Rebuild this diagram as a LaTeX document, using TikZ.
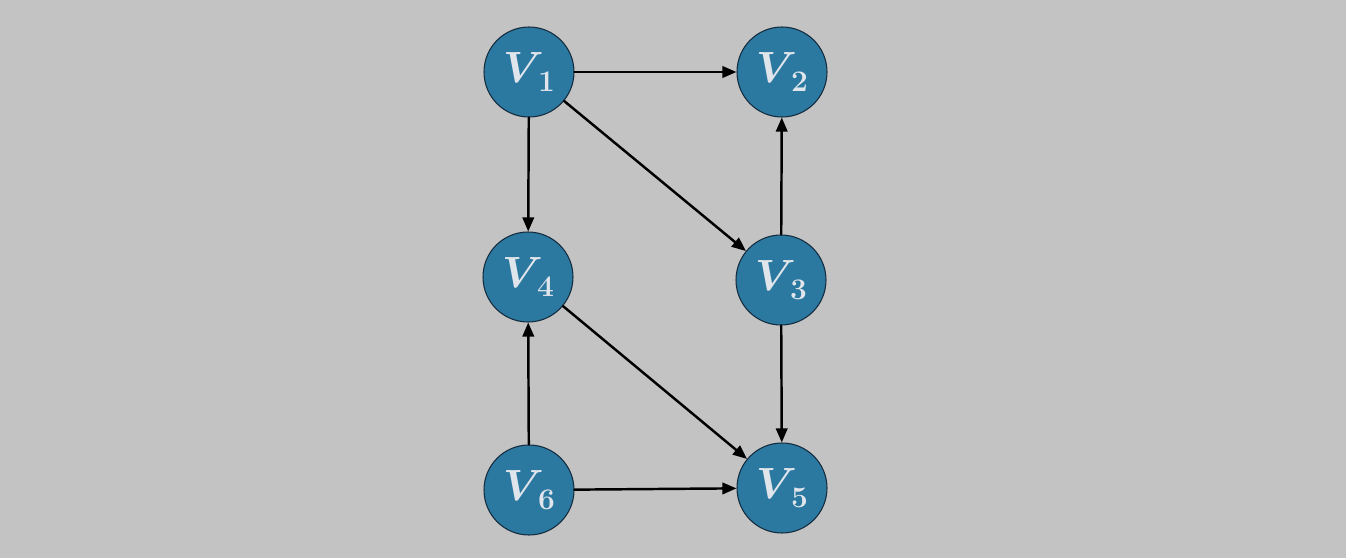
\documentclass[tikz,border=0pt]{standalone}
\usepackage{amsmath,amssymb,bm}
\usetikzlibrary{arrows.meta}
\definecolor{litegray}{rgb}{0.765,0.765,0.765}
\definecolor{nodeblue}{rgb}{0.17,0.47,0.63}
\definecolor{nodeedge}{rgb}{0.08,0.17,0.24}
\definecolor{labelwhite}{rgb}{0.88,0.9,0.92}
\newcommand{\vlab}[1]{$\bm{V}$\kern-0.14em\raisebox{-0.22em}{\fontsize{17}{20}\selectfont\bfseries #1}}
\begin{document}
\begin{tikzpicture}[line cap=round,line join=round,x=1.0cm,y=1.0cm,
	vertex/.style={circle,draw=nodeedge,line width=0.6pt,fill=nodeblue,minimum size=1.8cm,inner sep=0pt,text=labelwhite,font=\fontsize{23}{27}\selectfont},
	edge/.style={-{Triangle[length=8pt,width=6.5pt]},line width=1.4pt}]
	\fill [color=litegray] (0.,0.) rectangle (26.92,11.16);
	\useasboundingbox (0.,0.) rectangle (26.92,11.16);
	% vertices
	\node [vertex] (v1) at (10.58,9.72) {\vlab{1}};
	\node [vertex] (v2) at (15.64,9.72) {\vlab{2}};
	\node [vertex] (v4) at (10.56,5.62) {\vlab{4}};
	\node [vertex] (v3) at (15.62,5.56) {\vlab{3}};
	\node [vertex] (v6) at (10.58,1.36) {\vlab{6}};
	\node [vertex] (v5) at (15.64,1.40) {\vlab{5}};
	% edges
	\draw [edge] (v1) -- (v2);
	\draw [edge] (v1) -- (v4);
	\draw [edge] (v1) -- (v3);
	\draw [edge] (v3) -- (v2);
	\draw [edge] (v3) -- (v5);
	\draw [edge] (v4) -- (v5);
	\draw [edge] (v6) -- (v4);
	\draw [edge] (v6) -- (v5);
\end{tikzpicture}
\end{document}
